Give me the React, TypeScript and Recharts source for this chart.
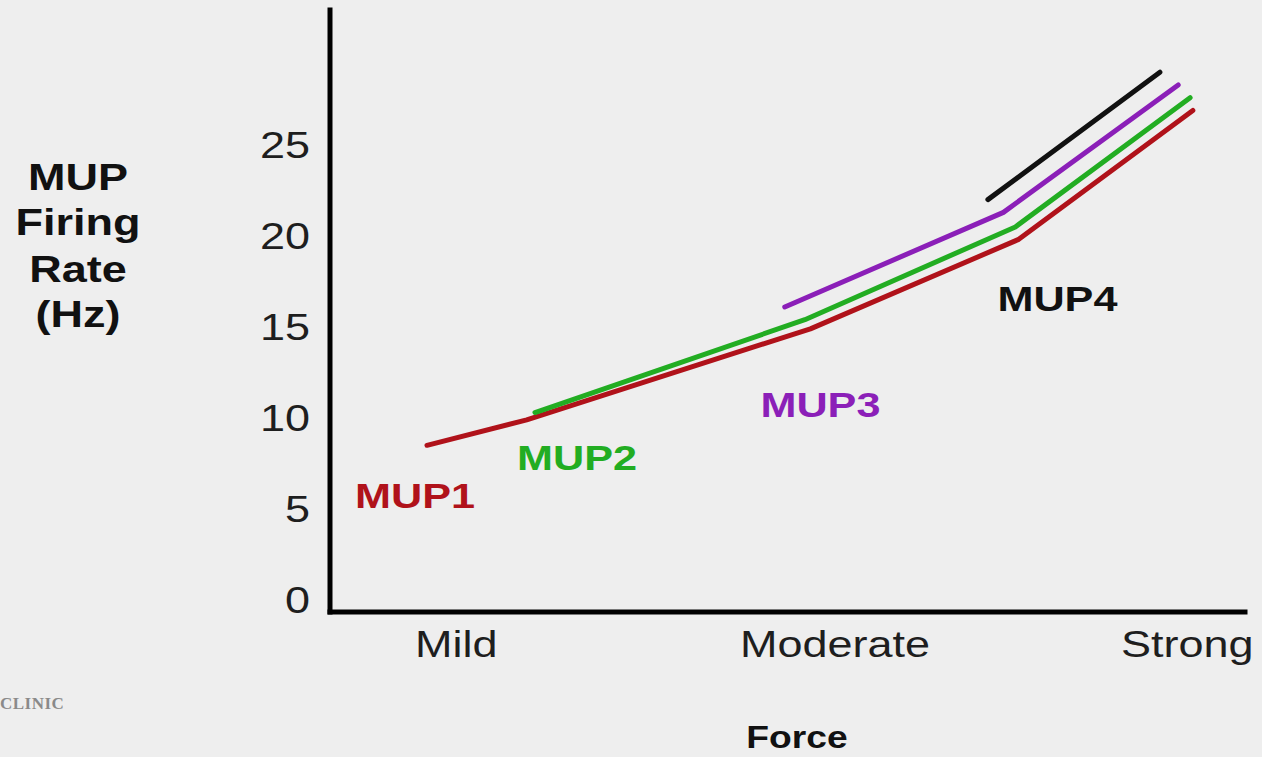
import React from 'react';
import { ComposedChart, Line, XAxis, YAxis, ReferenceDot, Label } from 'recharts';

// Axis definitions
const forceTicks = [13.8, 55.2, 93.7];
const forceLabels = ['Mild', 'Moderate', 'Strong'];
const rateTicks = [0, 5, 10, 15, 20, 25];
const yTitleLines = ['MUP', 'Firing', 'Rate', '(Hz)'];
const xTitle = 'Force';

// Series (force position 0-100, firing rate Hz)
const mup1 = [
  { force: 10.6, rate: 8.5 },
  { force: 21.5, rate: 9.9 },
  { force: 52.5, rate: 14.9 },
  { force: 75.2, rate: 19.8 },
  { force: 94.3, rate: 26.9 },
];
const mup2 = [
  { force: 22.4, rate: 10.3 },
  { force: 51.9, rate: 15.4 },
  { force: 74.9, rate: 20.5 },
  { force: 94.0, rate: 27.6 },
];
const mup3 = [
  { force: 49.7, rate: 16.1 },
  { force: 73.6, rate: 21.3 },
  { force: 92.7, rate: 28.3 },
];
const mup4 = [
  { force: 71.9, rate: 22.0 },
  { force: 90.7, rate: 29.0 },
];

// Series annotation labels
const unitNames = ['MUP1', 'MUP2', 'MUP3', 'MUP4'];
const unitLabelForce = [9.3, 27.0, 53.6, 79.5];
const unitLabelRate = [5.05, 7.14, 10.05, 15.9];

const COLORS = ['#b0121a', '#22ad22', '#8b1fb8', '#111111'];
const SERIES = [mup1, mup2, mup3, mup4];
const FONT = '"Liberation Sans", Arial, Helvetica, sans-serif';
const SX = 1.25;

const YTick = (props: any) => {
  const { x, y, payload } = props;
  return (
    <g transform={`translate(${x},${y + 13}) scale(${SX},1)`}>
      <text x={0} y={0} textAnchor="end" fontSize={36} fill="#1e1e1e" fontFamily={FONT}>
        {payload.value}
      </text>
    </g>
  );
};

const XTick = (props: any) => {
  const { x, y, payload, index } = props;
  const i = forceTicks.indexOf(payload.value);
  return (
    <g transform={`translate(${x},${y + 45}) scale(${SX},1)`}>
      <text x={0} y={0} textAnchor="middle" fontSize={36} fill="#1e1e1e" fontFamily={FONT}>
        {forceLabels[i >= 0 ? i : index]}
      </text>
    </g>
  );
};

const XTitle = (props: any) => {
  const vb = props.viewBox || { x: 330, y: 612, width: 915 };
  return (
    <g transform={`translate(${vb.x + 467},748) scale(1.2,1)`}>
      <text x={0} y={0} textAnchor="middle" fontSize={31} fontWeight="bold" fill="#111" fontFamily={FONT}>
        {xTitle}
      </text>
    </g>
  );
};

const YTitle = () => {
  const baselines = [190, 235, 282, 327];
  return (
    <g>
      {yTitleLines.map((t, i) => (
        <g key={t} transform={`translate(78,${baselines[i]}) scale(${SX},1)`}>
          <text x={0} y={0} textAnchor="middle" fontSize={36} fontWeight="bold" fill="#111" fontFamily={FONT}>
            {t}
          </text>
        </g>
      ))}
    </g>
  );
};

const makeLabelShape = (name: string, color: string) => (p: any) => (
  <g transform={`translate(${p.cx},${p.cy}) scale(1.2,1)`}>
    <text x={0} y={0} textAnchor="middle" fontSize={36} fontWeight="bold" fill={color} fontFamily={FONT}>
      {name}
    </text>
  </g>
);

export default function App() {
  return (
    <div
      style={{
        position: 'absolute',
        left: 0,
        top: 0,
        width: 1262,
        height: 757,
        background: '#eeeeee',
        overflow: 'hidden',
      }}
    >
      <ComposedChart
        width={1262}
        height={757}
        margin={{ top: 10, right: 17, bottom: 85, left: 270 }}
      >
        <XAxis
          type="number"
          dataKey="force"
          domain={[0, 100]}
          ticks={forceTicks}
          tick={<XTick />}
          tickLine={false}
          tickSize={0}
          tickMargin={0}
          height={60}
          axisLine={{ stroke: '#000', strokeWidth: 5, strokeLinecap: 'square' }}
          allowDataOverflow
        >
          <Label content={<XTitle />} />
        </XAxis>
        <YAxis
          type="number"
          dataKey="rate"
          domain={[-0.66, 32.42]}
          ticks={rateTicks}
          tick={<YTick />}
          tickLine={false}
          tickSize={0}
          tickMargin={20}
          width={60}
          axisLine={{ stroke: '#000', strokeWidth: 5, strokeLinecap: 'square' }}
          allowDataOverflow
        >
          <Label content={<YTitle />} />
        </YAxis>
        {SERIES.map((d, i) => (
          <Line
            key={unitNames[i]}
            data={d}
            dataKey="rate"
            type="linear"
            stroke={COLORS[i]}
            strokeWidth={5}
            strokeLinecap="round"
            strokeLinejoin="round"
            dot={false}
            activeDot={false}
            isAnimationActive={false}
          />
        ))}
        {unitNames.map((n, i) => (
          <ReferenceDot
            key={n}
            x={unitLabelForce[i]}
            y={unitLabelRate[i]}
            r={0}
            shape={makeLabelShape(n, COLORS[i])}
          />
        ))}
      </ComposedChart>
      <div
        style={{
          position: 'absolute',
          left: 0,
          top: 694,
          fontFamily: '"Liberation Serif", "DejaVu Serif", serif',
          fontSize: 17,
          fontWeight: 'bold',
          letterSpacing: 0.5,
          color: '#8a8a8a',
        }}
      >
        CLINIC
      </div>
    </div>
  );
}
